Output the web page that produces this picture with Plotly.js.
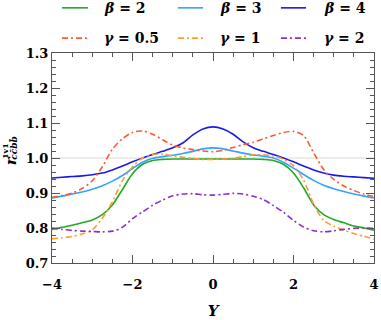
<!DOCTYPE html>
<html><head><meta charset="utf-8">
<script src="https://cdn.plot.ly/plotly-3.0.1.min.js"></script>
<style>html,body{margin:0;padding:0;background:#fff}#c{width:381px;height:320px}</style>
</head><body><div id="c"></div>
<script>
const Y = [-4,-3.75,-3.5,-3.25,-3,-2.75,-2.5,-2.25,-2,-1.75,-1.5,-1.25,-1,-0.75,-0.5,-0.25,0,
           0.25,0.5,0.75,1,1.25,1.5,1.75,2,2.25,2.5,2.75,3,3.25,3.5,3.75,4];
const beta2 = [0.796,0.802,0.808,0.815,0.823,0.838,0.866,0.910,0.955,0.982,0.993,0.996,0.997,0.997,0.997,0.997,0.997,
               0.997,0.997,0.997,0.997,0.996,0.993,0.982,0.957,0.915,0.866,0.838,0.824,0.815,0.806,0.800,0.794];
const beta3 = [0.886,0.891,0.897,0.903,0.911,0.921,0.934,0.950,0.970,0.988,0.999,1.004,1.008,1.013,1.019,1.026,1.029,
               1.026,1.020,1.014,1.009,1.005,1.000,0.988,0.971,0.953,0.936,0.922,0.912,0.904,0.897,0.891,0.886];
const beta4 = [0.943,0.945,0.947,0.949,0.952,0.957,0.966,0.977,0.989,1.000,1.010,1.019,1.029,1.043,1.066,1.083,1.089,
               1.083,1.068,1.046,1.029,1.019,1.010,1.000,0.989,0.977,0.966,0.957,0.951,0.948,0.946,0.944,0.942];
const gamma05 = [0.888,0.893,0.900,0.913,0.935,0.975,1.025,1.055,1.073,1.077,1.068,1.052,1.037,1.029,1.024,1.020,1.018,
                 1.022,1.030,1.038,1.045,1.055,1.064,1.073,1.076,1.064,1.015,0.967,0.939,0.920,0.907,0.897,0.890];
const gamma1 = [0.769,0.772,0.776,0.783,0.795,0.828,0.875,0.935,0.975,1.000,1.010,1.011,1.006,1.002,0.999,0.996,0.996,
                0.997,0.999,1.004,1.009,1.009,1.006,0.996,0.978,0.937,0.868,0.822,0.805,0.794,0.784,0.776,0.769];
const gamma2 = [0.800,0.796,0.793,0.791,0.790,0.789,0.791,0.802,0.827,0.846,0.865,0.880,0.892,0.897,0.898,0.895,0.894,
                0.896,0.899,0.897,0.891,0.881,0.864,0.845,0.822,0.803,0.792,0.789,0.792,0.796,0.799,0.800,0.799];
const xTicks = [-4,-2,0,2,4];
const xTickText = ['\u22124','\u22122','0','2','4'];
const yTicks = [0.7,0.8,0.9,1.0,1.1,1.2,1.3];
const yTickText = ['0.7','0.8','0.9','1.0','1.1','1.2','1.3'];
const names = ['<i>\u03b2</i> = 2','<i>\u03b2</i> = 3','<i>\u03b2</i> = 4','<i>\u03b3</i> = 0.5','<i>\u03b3</i> = 1','<i>\u03b3</i> = 2'];
const series = [beta2,beta3,beta4,gamma05,gamma1,gamma2];
const colors = ['#22aa22','#33a3ff','#1a1ae6','#ff5a2e','#ff9a33','#8a2fcc'];
const DD = '6px,3px,2px,3px';
const dashes = ['solid','solid','solid',DD,DD,DD];

const FONT = 'DejaVu Serif';
const traces = series.map((s,i)=>({x:Y,y:s,type:'scatter',mode:'lines',name:names[i],
  line:{color:colors[i],width:1.6,dash:dashes[i],shape:'spline',smoothing:0.8},showlegend:false,hoverinfo:'skip'}));

// manual legend (paper coords)
const legX = [[0.031,0.112,0.155],[0.391,0.469,0.516],[0.711,0.789,0.839]];
const legY = [1.215,1.071];
const shapes = [{type:'line',xref:'paper',x0:0,x1:1,yref:'y',y0:1,y1:1,line:{color:'#d9d9d9',width:1},layer:'below'}];
const annotations = [];
for(let i=0;i<6;i++){
  const r = Math.floor(i/3), c = i%3;
  shapes.push({type:'line',xref:'paper',yref:'paper',x0:legX[c][0],x1:legX[c][1],y0:legY[r],y1:legY[r],
    line:{color:colors[i],width:1.6,dash:dashes[i]}});
  annotations.push({xref:'paper',yref:'paper',x:legX[c][2],y:legY[r],xanchor:'left',yanchor:'middle',showarrow:false,
    text:names[i],font:{family:FONT,size:14,weight:700,color:'#000'}});
}
// y-axis title r^{1v1}_{c cbar b bbar}
annotations.push({xref:'paper',yref:'paper',x:-0.127,y:0.485,xanchor:'center',yanchor:'middle',showarrow:false,textangle:-90,
  text:'<i>r</i>',font:{family:FONT,size:15,weight:700,color:'#000'}});
annotations.push({xref:'paper',yref:'paper',x:-0.148,y:0.535,xanchor:'center',yanchor:'middle',showarrow:false,textangle:-90,
  text:'1v1',font:{family:FONT,size:8,weight:700,color:'#000'}});
annotations.push({xref:'paper',yref:'paper',x:-0.117,y:0.55,xanchor:'center',yanchor:'middle',showarrow:false,textangle:-90,
  text:'<i>cc\u0304bb\u0304</i>',font:{family:FONT,size:9,weight:700,color:'#000'}});

const axisCommon = {showgrid:false,zeroline:false,showline:true,linecolor:'#555',linewidth:1,mirror:'ticks',
  ticks:'inside',ticklen:8,tickcolor:'#555',tickwidth:1,tickfont:{family:FONT,size:13,weight:700,color:'#000'}};
const layout = {
  width:381,height:320,margin:{l:52,r:7,t:53,b:57},paper_bgcolor:'#fff',plot_bgcolor:'#fff',
  xaxis:Object.assign({},axisCommon,{range:[-4,4],tickmode:'array',tickvals:xTicks,ticktext:xTickText,ticklabelstandoff:9,
    minor:{dtick:0.5,ticks:'inside',ticklen:4,tickcolor:'#555',showgrid:false},
    title:{text:'<i>Y</i>',font:{family:FONT,size:15,weight:700,color:'#000'},standoff:17}}),
  yaxis:Object.assign({},axisCommon,{range:[0.7,1.3],tickmode:'array',tickvals:yTicks,ticktext:yTickText,
    minor:{dtick:0.02,ticks:'inside',ticklen:4,tickcolor:'#555',showgrid:false}}),
  shapes:shapes,annotations:annotations,showlegend:false
};
Plotly.newPlot('c',traces,layout,{staticPlot:true,displayModeBar:false});
</script></body></html>
